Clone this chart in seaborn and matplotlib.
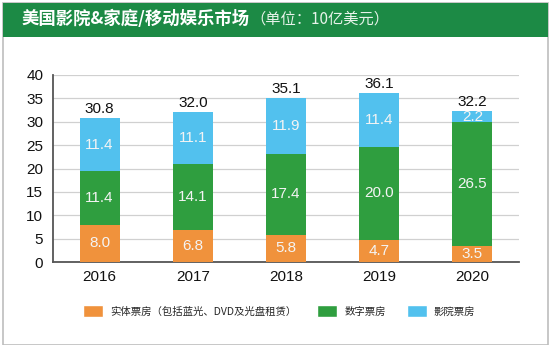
import matplotlib
matplotlib.use("Agg")
import matplotlib.pyplot as plt
import seaborn as sns
import pandas as pd
import numpy as np
from matplotlib.patches import Rectangle, Patch

years = ["2016", "2017", "2018", "2019", "2020"]
physical = [8.0, 6.8, 5.8, 4.7, 3.5]
digital = [11.4, 14.1, 17.4, 20.0, 26.5]
theater = [11.4, 11.1, 11.9, 11.4, 2.2]
totals = [30.8, 32.0, 35.1, 36.1, 32.2]
series_names = ["实体票房（包括蓝光、DVD及光盘租赁）", "数字票房", "影院票房"]
title_main = "美国影院&家庭/移动娱乐市场"
title_unit = "（单位：10亿美元）"
yticks = [0, 5, 10, 15, 20, 25, 30, 35, 40]

c_phys = "#F0923C"
c_dig = "#2F9E3F"
c_the = "#52C1EE"
c_head = "#1C8A45"

sns.set_theme(style="white")
plt.rcParams["font.family"] = ["Liberation Sans", "Noto Sans CJK SC", "DejaVu Sans"]

fig = plt.figure(figsize=(5.53, 3.45), dpi=100)
W, H = 553, 345

# frame and header
fig.patches.append(Rectangle((3 / W, 0), 545 / W, 342 / H, transform=fig.transFigure,
                             facecolor="none", edgecolor="#BDBDBD", lw=1.2, zorder=0))
fig.patches.append(Rectangle((3 / W, 1 - 37 / H), 545 / W, 34 / H, transform=fig.transFigure,
                             facecolor=c_head, edgecolor="none", zorder=1))
t1 = fig.text(22 / W, 1 - 19 / H, title_main, color="white", fontsize=12.5, fontweight="bold",
              va="center", ha="left", family=["Noto Sans CJK SC", "DejaVu Sans"])
fig.canvas.draw()
bb = t1.get_window_extent()
fig.text(bb.x1 / W, 1 - 19 / H, title_unit, color="#E8F3EA", fontsize=11,
         va="center", ha="left", family=["Noto Sans CJK SC", "DejaVu Sans"])

ax = fig.add_axes([53 / W, 1 - 262 / H, 466 / W, 187 / H])
ax.set_zorder(3)

df = pd.DataFrame({"year": years, "physical": physical, "digital": digital, "theater": theater})
df["cum2"] = df["physical"] + df["digital"]
df["cum3"] = df["cum2"] + df["theater"]

bw = 0.43
for col, c in [("cum3", c_the), ("cum2", c_dig), ("physical", c_phys)]:
    sns.barplot(data=df, x="year", y=col, color=c, saturation=1, width=bw, ax=ax,
                zorder=3, linewidth=0, edgecolor="none")

lab_col = "#F4F4F4"
fs = 11
for i in range(len(years)):
    p, d, t = physical[i], digital[i], theater[i]
    ax.text(i, p / 2, f"{p:.1f}", ha="center", va="center", color=lab_col, fontsize=fs, zorder=5)
    ax.text(i, p + d / 2, f"{d:.1f}", ha="center", va="center", color=lab_col, fontsize=fs, zorder=5)
    ax.text(i, p + d + t / 2, f"{t:.1f}", ha="center", va="center", color=lab_col, fontsize=fs, zorder=5)
    ax.annotate(f"{totals[i]:.1f}", (i, p + d + t), xytext=(0, 1.5), textcoords="offset points",
                ha="center", va="bottom", color="#111111", fontsize=fs, zorder=5)

ax.set_xlim(-0.5, 4.5)
ax.set_ylim(0, 40)
ax.set_yticks(yticks)
ax.set_yticklabels([str(v) for v in yticks], fontsize=fs, color="#111111")
ax.set_xticks(range(len(years)))
ax.set_xticklabels(years, fontsize=fs, color="#111111")
ax.set_xlabel("")
ax.set_ylabel("")
ax.set_xticks(np.arange(-0.5, 5, 1.0), minor=True)
ax.tick_params(axis="x", which="major", length=0, pad=6)
ax.tick_params(axis="x", which="minor", length=5, width=1.2, color="#555555", direction="out")
ax.tick_params(axis="y", length=4, width=1.0, color="#555555", direction="out", pad=3)
ax.yaxis.grid(True, color="#D0D0D0", lw=0.9, zorder=0)
ax.set_axisbelow(True)
for s in ["top", "right"]:
    ax.spines[s].set_visible(False)
for s in ["left", "bottom"]:
    ax.spines[s].set_color("#555555")
    ax.spines[s].set_linewidth(1.3)
ax.set_facecolor("none")

handles = [Patch(facecolor=c_phys), Patch(facecolor=c_dig), Patch(facecolor=c_the)]
fig.legend(handles, series_names, loc="center", bbox_to_anchor=(0.505, 1 - 311 / H), ncol=3,
           frameon=False, prop={"family": ["Noto Sans CJK SC", "DejaVu Sans"], "size": 7.5},
           handlelength=1.9, handleheight=1.5, columnspacing=2.0, handletextpad=0.7)

fig.savefig("out.png", dpi=100)
